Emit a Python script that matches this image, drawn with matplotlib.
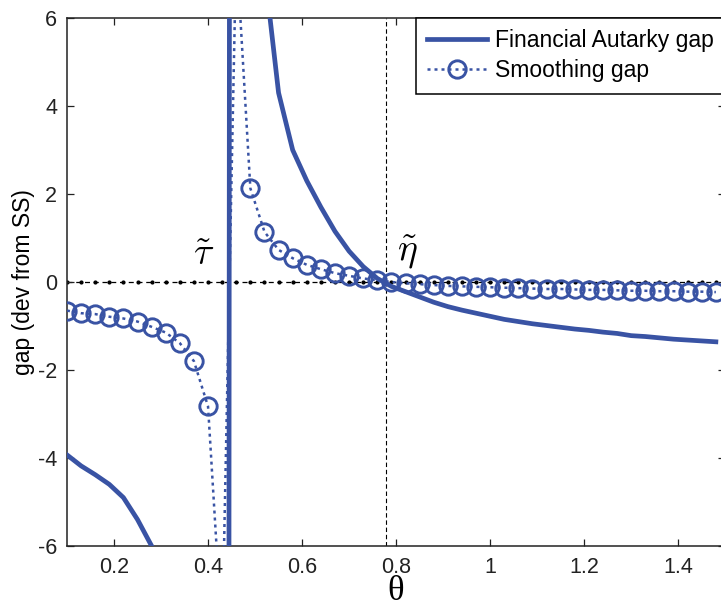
import numpy as np
import matplotlib
matplotlib.use('Agg')
import matplotlib.pyplot as plt

plt.rcParams['font.family'] = ['Liberation Sans', 'DejaVu Sans']
plt.rcParams['mathtext.fontset'] = 'cm'
plt.rcParams['axes.unicode_minus'] = False

# theta grid (step 0.03)
theta = [0.10, 0.13, 0.16, 0.19, 0.22, 0.25, 0.28, 0.31, 0.34, 0.37,
         0.40, 0.43, 0.46, 0.49, 0.52, 0.55, 0.58, 0.61, 0.64, 0.67,
         0.70, 0.73, 0.76, 0.79, 0.82, 0.85, 0.88, 0.91, 0.94, 0.97,
         1.00, 1.03, 1.06, 1.09, 1.12, 1.15, 1.18, 1.21, 1.24, 1.27,
         1.30, 1.33, 1.36, 1.39, 1.42, 1.45, 1.48]

# Financial autarky gap (solid)
fa_gap = [-3.93, -4.18, -4.38, -4.60, -4.90, -5.40, -6.00, -6.90, -8.20, -10.5,
          -15.0, -200.0, 200.0, 14.0, 7.1, 4.3, 3.0, 2.3, 1.7, 1.15,
          0.70, 0.35, 0.08, -0.10, -0.22, -0.34, -0.46, -0.56, -0.64, -0.71,
          -0.78, -0.85, -0.90, -0.95, -0.99, -1.03, -1.07, -1.10, -1.14, -1.17,
          -1.22, -1.24, -1.27, -1.30, -1.32, -1.34, -1.36]

# Smoothing gap (dotted with circles)
sm_gap = [-0.65, -0.71, -0.73, -0.79, -0.83, -0.90, -1.02, -1.15, -1.39, -1.80,
          -2.83, -8.1, 7.6, 2.13, 1.14, 0.73, 0.54, 0.39, 0.29, 0.20,
          0.14, 0.08, 0.04, 0.0, -0.03, -0.05, -0.07, -0.09, -0.10, -0.11,
          -0.12, -0.13, -0.14, -0.15, -0.16, -0.16, -0.17, -0.18, -0.18, -0.19,
          -0.20, -0.20, -0.21, -0.21, -0.22, -0.22, -0.23]

# steady state reference line
ss_line = [0.0] * len(theta)

eta_tilde = 0.779
blue = '#3953a4'

fig = plt.figure(figsize=(7.21, 6.10), dpi=100)
ax = fig.add_axes([0.0929, 0.105, 0.913, 0.8655])

ax.plot(theta, ss_line, color='k', lw=0.9, ls=(0, (4, 3)), marker='.', ms=4,
        zorder=1)
ax.axvline(eta_tilde, color='k', lw=0.8, ls=(0, (4, 2.5)), zorder=1)

ax.plot(theta, fa_gap, color=blue, lw=3.4, label='Financial Autarky gap', zorder=3)
ax.plot(theta, sm_gap, color=blue, lw=1.8, ls=(0, (1.2, 1.6)), marker='o', ms=12.5,
        mfc='none', mec=blue, mew=2.1, label='Smoothing gap', zorder=4)

ax.text(0.39, 0.62, r'$\tilde{\tau}$', fontsize=27, ha='center', va='center')
ax.text(0.823, 0.68, r'$\tilde{\eta}$', fontsize=27, ha='center', va='center')

ax.set_xlim(0.1, 1.5)
ax.set_ylim(-6, 6)
ax.set_xticks([0.2, 0.4, 0.6, 0.8, 1.0, 1.2, 1.4])
ax.set_xticklabels(['0.2', '0.4', '0.6', '0.8', '1', '1.2', '1.4'])
ax.set_yticks([-6, -4, -2, 0, 2, 4, 6])
ax.tick_params(direction='in', top=True, right=True, length=5, width=0.9,
               labelsize=15.5, colors='#222222')
ax.tick_params(axis='x', pad=8)
ax.tick_params(axis='y', pad=7)
for s in ax.spines.values():
    s.set_linewidth(1.1)
    s.set_color('#222222')

ax.set_xlabel('θ', fontsize=25, labelpad=-2, family='Liberation Serif')
ax.set_ylabel('gap (dev from SS)', fontsize=16.5, labelpad=2)

leg = ax.legend(loc='upper right', fontsize=16.5, handlelength=2.6,
                borderaxespad=0, fancybox=False, edgecolor='k',
                framealpha=1, borderpad=0.5, labelspacing=0.3,
                handletextpad=0.35)
leg.get_frame().set_linewidth(1.1)

fig.savefig('out.png', dpi=100)
